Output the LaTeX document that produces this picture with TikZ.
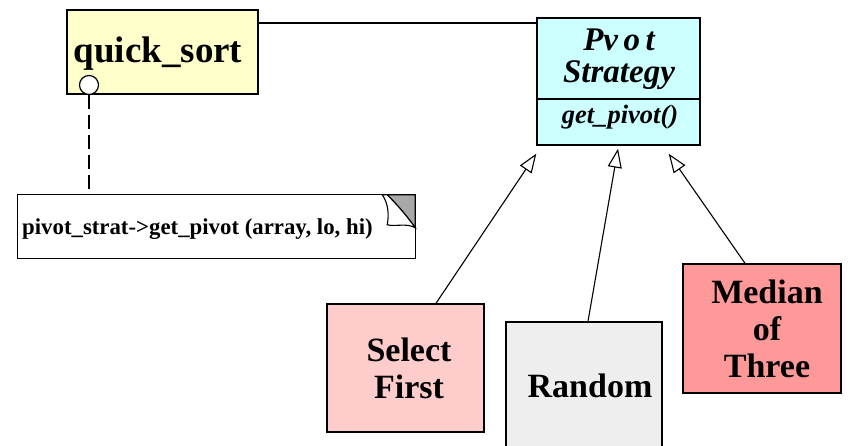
\documentclass[tikz,border=0pt]{standalone}
\usepackage{fontspec}
\setmainfont{Liberation Serif}
\usetikzlibrary{arrows.meta,calc}
\definecolor{qsyellow}{HTML}{FFFFCC}
\definecolor{pscyan}{HTML}{CCFFFF}
\definecolor{sfpink}{HTML}{FFCCCC}
\definecolor{rndgray}{HTML}{EEEEEE}
\definecolor{mtsalmon}{HTML}{FF9999}
\definecolor{dogear}{HTML}{A8A8A8}
\begin{document}
\begin{tikzpicture}[x=1pt,y=-1pt,
  box/.style={draw, line width=1.4pt, inner sep=0pt, align=center},
  lbl/.style={font=\bfseries\fontsize{34}{37}\selectfont, align=center, inner sep=0pt},
  gen/.style={line width=1.1pt, -{Triangle[open, length=19pt, width=14pt, fill=white, line width=1.1pt]}},
  conn/.style={line width=1.2pt},
]
\useasboundingbox (0,0) rectangle (857,446);
\clip (0,0) rectangle (857,446);

% quick_sort
\node[box, fill=qsyellow, minimum width=191pt, minimum height=84pt] (qs) at (162.5,52) {};
\node[lbl, font=\bfseries\fontsize{37}{40}\selectfont, anchor=base] (qstext) at (158,63) {quick\_sort};

% Pivot Strategy
\node[box, fill=pscyan, minimum width=163pt, minimum height=127pt] (ps) at (618.5,81.5) {};
\draw[line width=1.4pt] ([yshift=-17.5pt]ps.west) -- ([yshift=-17.5pt]ps.east);
\node[lbl, font=\bfseries\itshape\fontsize{33}{32}\selectfont] (pstitle) at (619,59) {Pv\,o\,t\\Strategy};
\node[lbl, font=\bfseries\itshape\fontsize{26.5}{28}\selectfont, anchor=base] (psop) at (620,124) {get\_pivot()};

% association line
\draw[conn] ([yshift=29pt]qs.east) -- ([yshift=29pt]qs.east -| ps.west);

% lollipop and note
\node[circle, draw, line width=1.2pt, fill=white, minimum size=19pt, inner sep=0pt] (lolli) at (89,85) {};
\node[inner sep=0pt, minimum width=397pt, minimum height=63pt] (note) at (216.5,226.5) {};
\draw[line width=1.4pt, dash pattern=on 14pt off 6pt] (lolli.south) -- (lolli.south |- note.north);
\draw[line width=1.3pt] ([xshift=-33pt]note.north east) -- (note.north west) -- (note.south west) -- (note.south east) -- ([yshift=-33pt]note.north east);
\draw[line width=1.1pt, fill=dogear] ([xshift=-28pt]note.north east) -- (note.north east) -- ([yshift=-33pt]note.north east)
  .. controls ([xshift=-9pt,yshift=-20pt]note.north east) and ([xshift=-20pt,yshift=-8pt]note.north east) .. cycle;
\draw[line width=1.1pt, fill=white] ([xshift=-33pt]note.north east)
  .. controls ([xshift=-27pt,yshift=-8pt]note.north east) and ([xshift=-26pt,yshift=-20pt]note.north east) .. ([xshift=-28pt,yshift=-30pt]note.north east)
  .. controls ([xshift=-20pt,yshift=-32pt]note.north east) and ([xshift=-8pt,yshift=-28pt]note.north east) .. ([yshift=-33pt]note.north east)
  .. controls ([xshift=-9pt,yshift=-20pt]note.north east) and ([xshift=-20pt,yshift=-8pt]note.north east) .. ([xshift=-28pt]note.north east) -- cycle;
\node[lbl, font=\bfseries\fontsize{22.8}{25}\selectfont, anchor=base west] (notetext) at (22,235) {pivot\_strat->get\_pivot (array, lo, hi)};

% subclasses
\node[box, fill=sfpink, minimum width=157pt, minimum height=128pt] (sf) at (405.5,368) {};
\node[lbl] (sftext) at (409,368.5) {Select\\First};
\node[box, fill=rndgray, minimum width=156pt, minimum height=138pt] (rnd) at (584,391) {};
\node[lbl, anchor=base] (rndtext) at (590,397) {Random};
\node[box, fill=mtsalmon, minimum width=158pt, minimum height=129pt] (mt) at (762,328.5) {};
\node[lbl] (mttext) at (767,328.5) {Median\\of\\Three};

% generalization arrows
\coordinate (tip1) at ([yshift=-8pt]ps.south west);
\coordinate (tip2) at ([xshift=-0.5pt,yshift=-3pt]ps.south);
\coordinate (tip3) at ([xshift=-32pt,yshift=-8pt]ps.south east);
\draw[gen] ([xshift=30.5pt]sf.north) -- (tip1);
\draw[gen] ([xshift=4pt]rnd.north) -- (tip2);
\draw[gen] ([xshift=-17pt]mt.north) -- (tip3);
\end{tikzpicture}
\end{document}
